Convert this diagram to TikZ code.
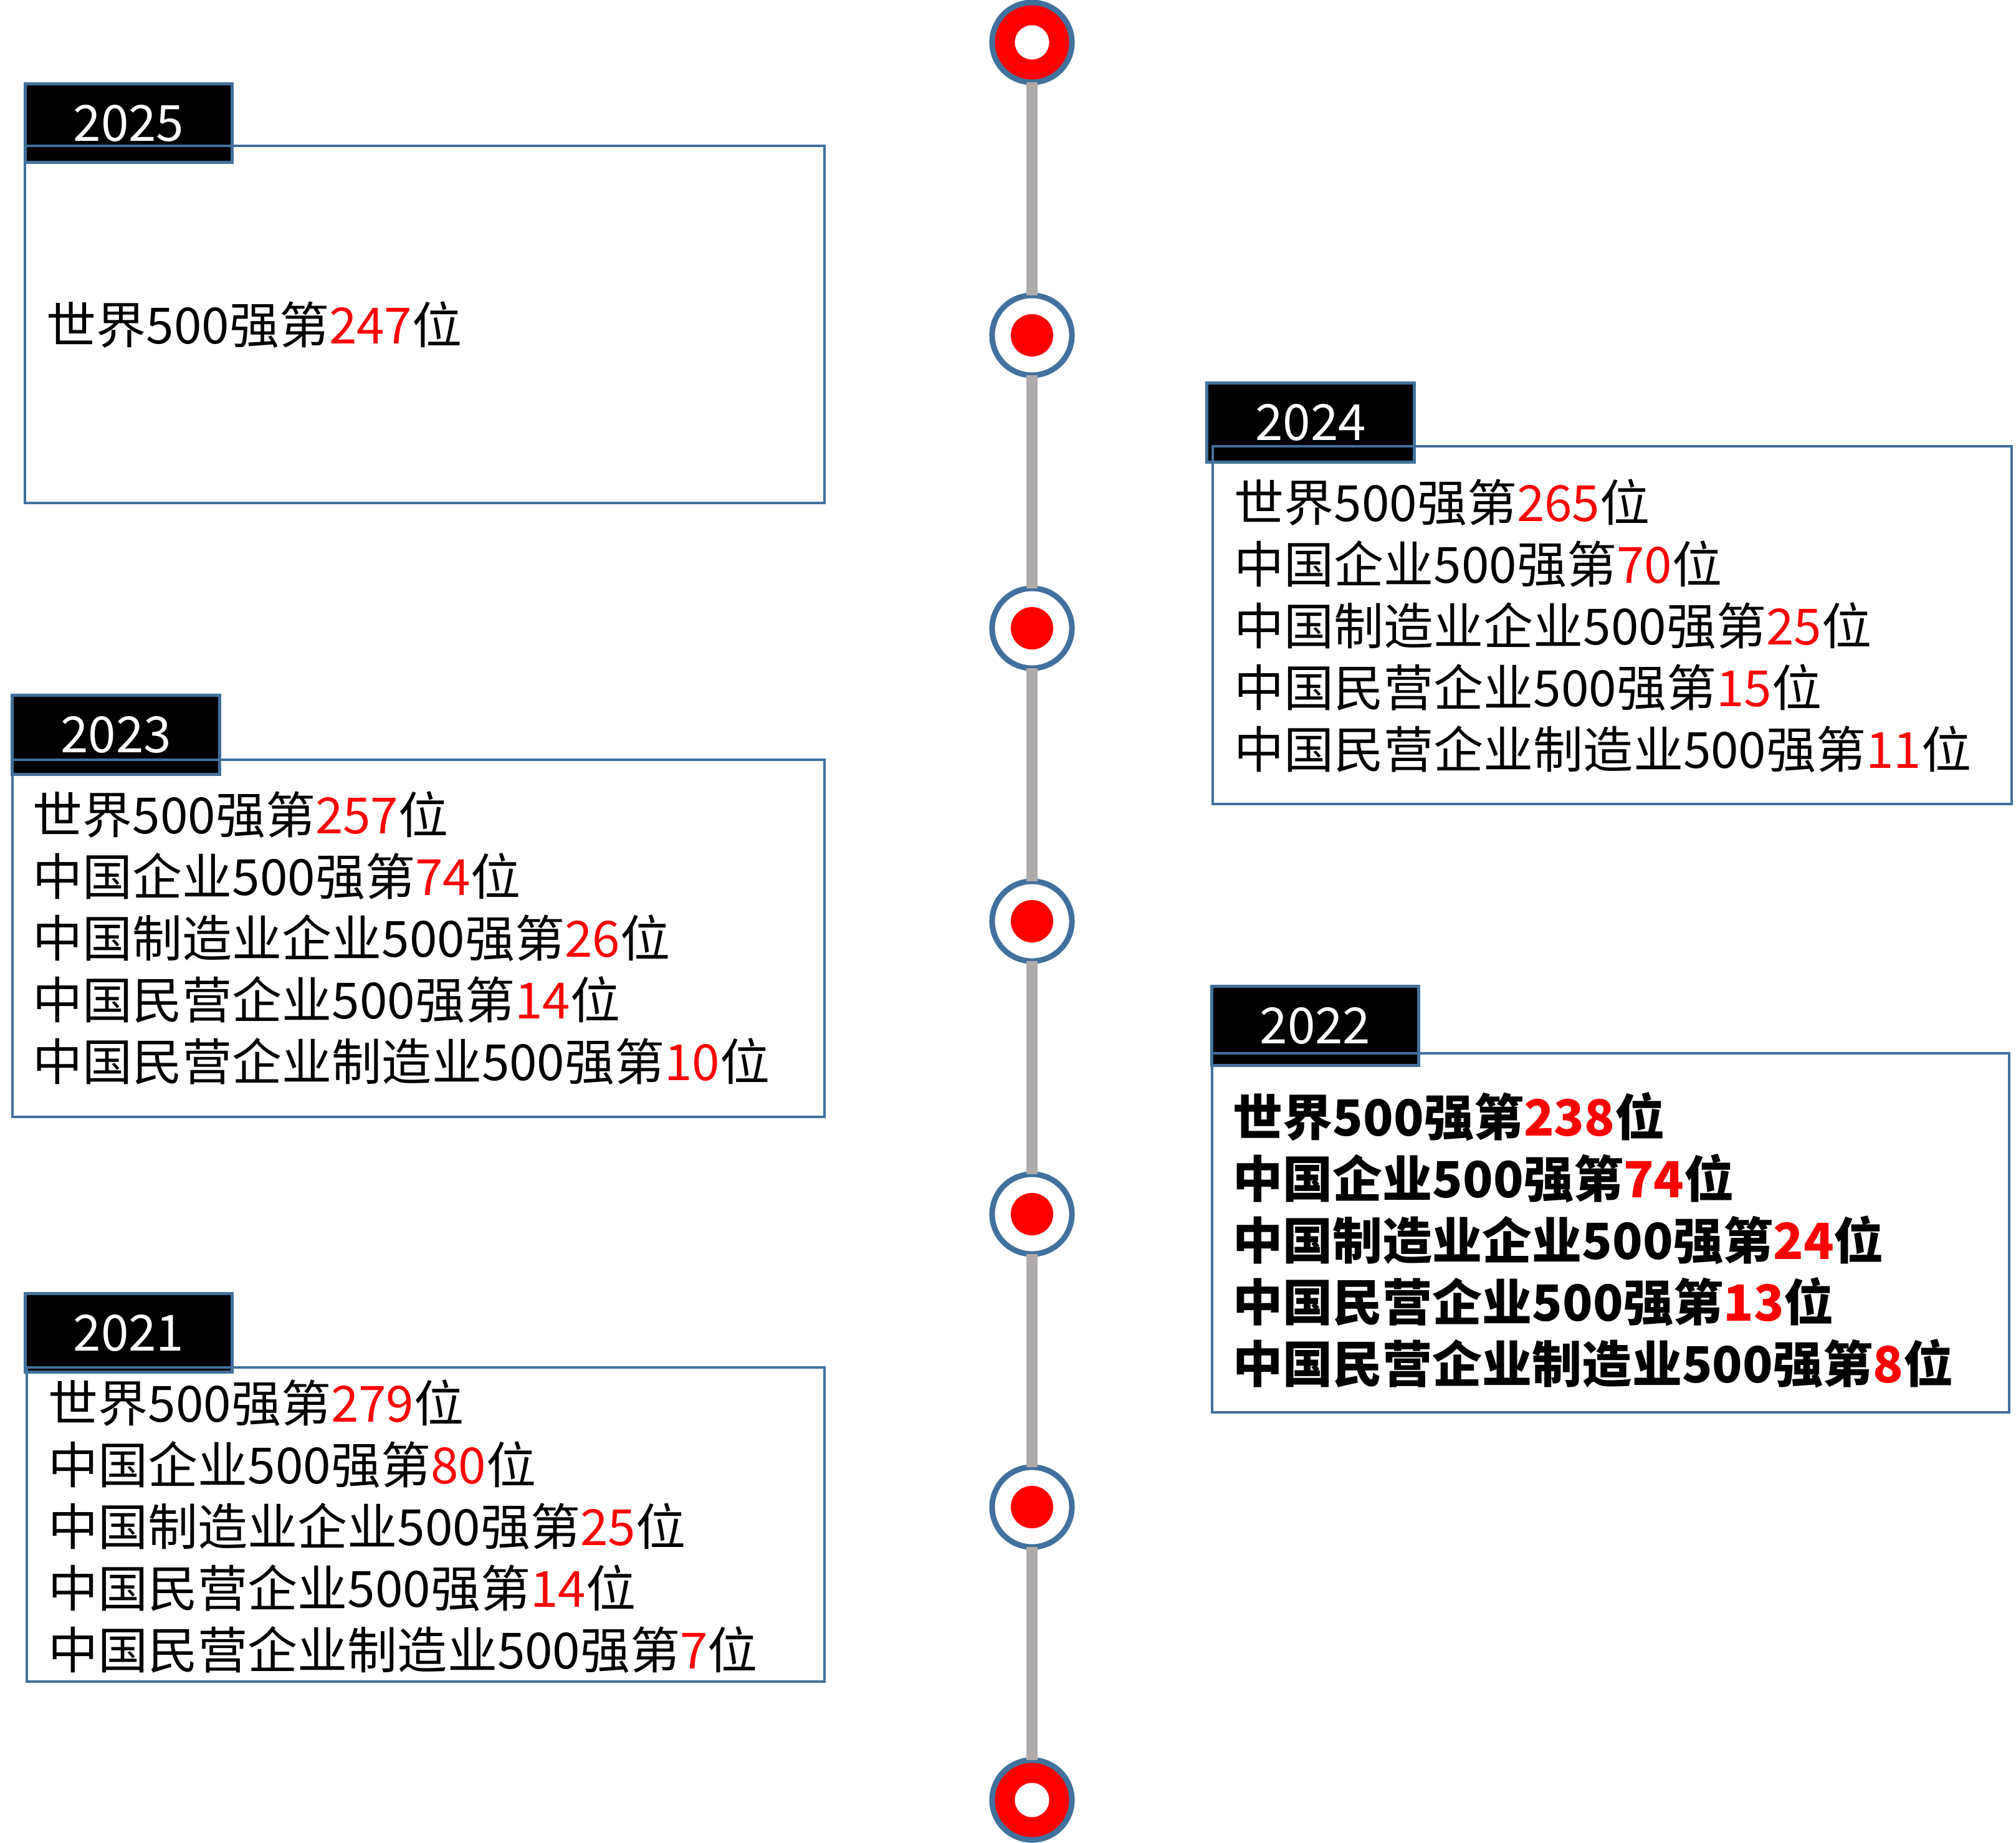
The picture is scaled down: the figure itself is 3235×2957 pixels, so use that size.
\documentclass[tikz,border=0pt]{standalone}
\usepackage{fontspec}
\usepackage{xcolor}
\usepackage{tikz}
\newfontfamily\cjk{Noto Sans CJK SC}
\definecolor{ringblue}{HTML}{41719C}
\definecolor{spinegray}{HTML}{AFABAB}
\newcommand{\rk}[1]{\textcolor{red}{#1}}
\tikzset{
    endpt/.style={circle, draw=ringblue, fill=red, line width=0.09cm,
        minimum size=1.28cm, inner sep=0pt, outer sep=0pt,
        path picture={\fill[white] (path picture bounding box.center) circle (0.275cm);}},
    midpt/.style={circle, draw=ringblue, fill=white, line width=0.09cm,
        minimum size=1.28cm, inner sep=0pt, outer sep=0pt,
        path picture={\fill[red] (path picture bounding box.center) circle (0.34cm);}},
    spine/.style={draw=spinegray, line width=0.18cm},
    yeartag/.style={draw=ringblue, fill=black, line width=0.05cm,
        minimum width=3.32cm, minimum height=1.26cm, inner sep=0pt,
        text=white, font=\cjk\fontsize{22.76pt}{28pt}\selectfont},
    framebox/.style={draw=ringblue, line width=0.045cm},
    ranklines/.style={anchor=west, align=left, inner sep=0pt,
        font=\cjk\fontsize{22.76pt}{28.15pt}\selectfont}
}

\begin{document}
\begin{tikzpicture}[x=0.01cm, y=-0.01cm]
    \useasboundingbox (0,0) rectangle (3235,2957);
    % Timeline dots, open ends at top and bottom
    \node[endpt] (c0) at (1656,68) {};
    \foreach \i in {1,...,5} {
        \node[midpt] (c\i) at (1656,68+470*\i) {};
    }
    \node[endpt] (c6) at (1656,2888) {};
    % Grey spine between the dots
    \foreach \i [evaluate=\i as \j using int(\i+1)] in {0,...,5} {
        \draw[spine] (c\i) -- (c\j);
    }

    % 2025
    \node[yeartag] (y2025) at (206.5,197.5) {2025};
    \draw[framebox] (40,234) rectangle (1323,807);
    \node[ranklines] (t2025) at (74,521) {世界500强第\rk{247}位};

    % 2024
    \node[yeartag] (y2024) at (2103,678) {2024};
    \draw[framebox] (1946,716) rectangle (3228,1290);
    \node[ranklines] (t2024) at (1980,1004) {世界500强第\rk{265}位\\
        中国企业500强第\rk{70}位\\
        中国制造业企业500强第\rk{25}位\\
        中国民营企业500强第\rk{15}位\\
        中国民营企业制造业500强第\rk{11}位};

    % 2023
    \node[yeartag] (y2023) at (186,1179) {2023};
    \draw[framebox] (20,1219) rectangle (1323,1792);
    \node[ranklines] (t2023) at (52,1505) {世界500强第\rk{257}位\\
        中国企业500强第\rk{74}位\\
        中国制造业企业500强第\rk{26}位\\
        中国民营企业500强第\rk{14}位\\
        中国民营企业制造业500强第\rk{10}位};

    % 2022 (bold)
    \node[yeartag] (y2022) at (2110.5,1646) {2022};
    \draw[framebox] (1945,1690) rectangle (3224,2266);
    \node[ranklines, font=\cjk\bfseries\fontsize{22.76pt}{28.15pt}\selectfont] (t2022) at (1978,1990) {世界500强第\rk{238}位\\
        中国企业500强第\rk{74}位\\
        中国制造业企业500强第\rk{24}位\\
        中国民营企业500强第\rk{13}位\\
        中国民营企业制造业500强第\rk{8}位};

    % 2021
    \node[yeartag] (y2021) at (206.5,2138.5) {2021};
    \draw[framebox] (43,2194) rectangle (1323,2698);
    \node[ranklines] (t2021) at (77,2449) {世界500强第\rk{279}位\\
        中国企业500强第\rk{80}位\\
        中国制造业企业500强第\rk{25}位\\
        中国民营企业500强第\rk{14}位\\
        中国民营企业制造业500强第\rk{7}位};
\end{tikzpicture}
\end{document}
